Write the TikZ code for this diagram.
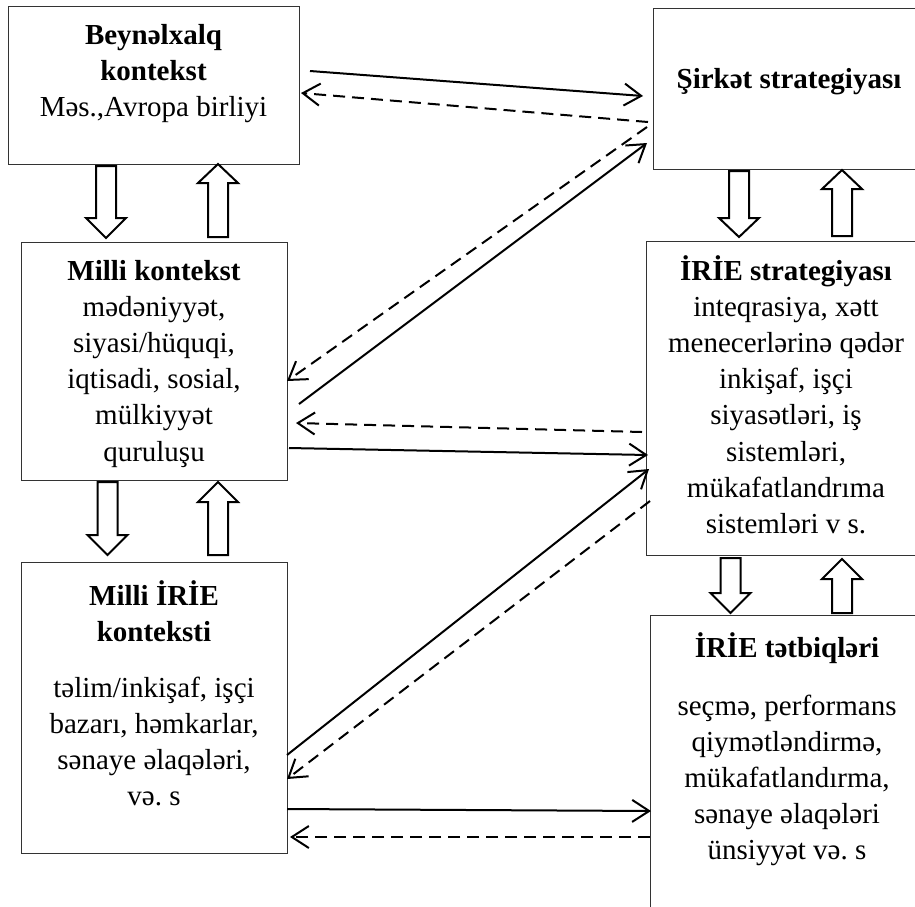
\documentclass[tikz,border=0pt]{standalone}
\usepackage{fontspec}
\setmainfont{Liberation Serif}
\usetikzlibrary{arrows.meta}
\frenchspacing
\newcommand\blkarrow[4]{% x, ystart, ybase, ytip
  \draw[blockar] (#1-10,#2) -- (#1+10,#2) -- (#1+10,#3) -- (#1+20,#3) -- (#1,#4) -- (#1-20,#3) -- (#1-10,#3) -- cycle;}
\begin{document}
\begin{tikzpicture}[x=1pt,y=-1pt,
  box/.style={draw=black!80,line width=1.2pt,rectangle,inner sep=0pt,anchor=north west},
  txt/.style={anchor=base,inner sep=0pt,font=\fontsize{29}{36.2}\selectfont},
  blockar/.style={draw=black,line width=2pt,fill=white,line join=miter},
  conn/.style={line width=2pt,-{Straight Barb[length=17pt,width=22pt]}},
  dconn/.style={conn,dash pattern=on 12pt off 7pt}]
\clip (0,0) rectangle (915,906);
\useasboundingbox (0,0) rectangle (915,906);
% boxes
\node[box,minimum width=291pt,minimum height=158pt] (b1) at (8,6) {};
\node[box,minimum width=280pt,minimum height=161pt] (b2) at (653,8) {};
\node[box,minimum width=266pt,minimum height=238pt] (b3) at (21,242) {};
\node[box,minimum width=290pt,minimum height=314pt] (b4) at (646,241) {};
\node[box,minimum width=266pt,minimum height=291pt] (b5) at (21,562) {};
\node[box,minimum width=290pt,minimum height=310pt] (b6) at (650,615) {};
% texts
\node[txt] (t1) at (153.5,44) {\begin{tabular}[t]{@{}c@{}}\textbf{Beynəlxalq}\\\textbf{kontekst}\\Məs.,Avropa birliyi\end{tabular}};
\node[txt] (t2) at (789,88) {\textbf{Şirkət strategiyası}};
\node[txt] (t3) at (154,280) {\begin{tabular}[t]{@{}c@{}}\textbf{Milli kontekst}\\mədəniyyət,\\siyasi/hüquqi,\\iqtisadi, sosial,\\mülkiyyət\\quruluşu\end{tabular}};
\node[txt] (t4) at (786,280) {\begin{tabular}[t]{@{}c@{}}\textbf{İRİE strategiyası}\\inteqrasiya, xətt\\menecerlərinə qədər\\inkişaf, işçi\\siyasətləri, iş\\sistemləri,\\mükafatlandrıma\\sistemləri v s.\end{tabular}};
\node[txt] (t5a) at (154,605) {\begin{tabular}[t]{@{}c@{}}\textbf{Milli İRİE}\\\textbf{konteksti}\end{tabular}};
\node[txt] (t5b) at (154,697) {\begin{tabular}[t]{@{}c@{}}təlim/inkişaf, işçi\\bazarı, həmkarlar,\\sənaye əlaqələri,\\və. s\end{tabular}};
\node[txt] (t6a) at (787,657) {\textbf{İRİE tətbiqləri}};
\node[txt] (t6b) at (787,715) {\begin{tabular}[t]{@{}c@{}}seçmə, performans\\qiymətləndirmə,\\mükafatlandırma,\\sənaye əlaqələri\\ünsiyyət və. s\end{tabular}};
% block arrows
\blkarrow{106}{166}{218}{238}
\blkarrow{218}{237}{183}{164}
\blkarrow{107.5}{482}{535}{555}
\blkarrow{218}{555}{502}{482}
\blkarrow{739}{171}{218}{237}
\blkarrow{842}{236}{189}{170}
\blkarrow{730.5}{558}{593}{613}
\blkarrow{842}{613}{579}{559}
% connector end points
\coordinate (c1s) at (310,71);  \coordinate (c1e) at (643,96);
\coordinate (c2s) at (648,122); \coordinate (c2e) at (301,93);
\coordinate (c3s) at (647,127); \coordinate (c3e) at (287,381);
\coordinate (c4s) at (299,404); \coordinate (c4e) at (647,143);
\coordinate (c5s) at (642,432); \coordinate (c5e) at (296,423);
\coordinate (c6s) at (289,448); \coordinate (c6e) at (648,455);
\coordinate (c7s) at (287,755); \coordinate (c7e) at (649,469);
\coordinate (c8s) at (650,501); \coordinate (c8e) at (287,779);
\coordinate (c9s) at (287,809); \coordinate (c9e) at (651,811);
\coordinate (c10s) at (650,837); \coordinate (c10e) at (290,837);
\draw[conn] (c1s) -- (c1e);
\draw[dconn] (c2s) -- (c2e);
\draw[dconn] (c3s) -- (c3e);
\draw[conn] (c4s) -- (c4e);
\draw[dconn] (c5s) -- (c5e);
\draw[conn] (c6s) -- (c6e);
\draw[conn] (c7s) -- (c7e);
\draw[dconn] (c8s) -- (c8e);
\draw[conn] (c9s) -- (c9e);
\draw[dconn] (c10s) -- (c10e);
\end{tikzpicture}
\end{document}
